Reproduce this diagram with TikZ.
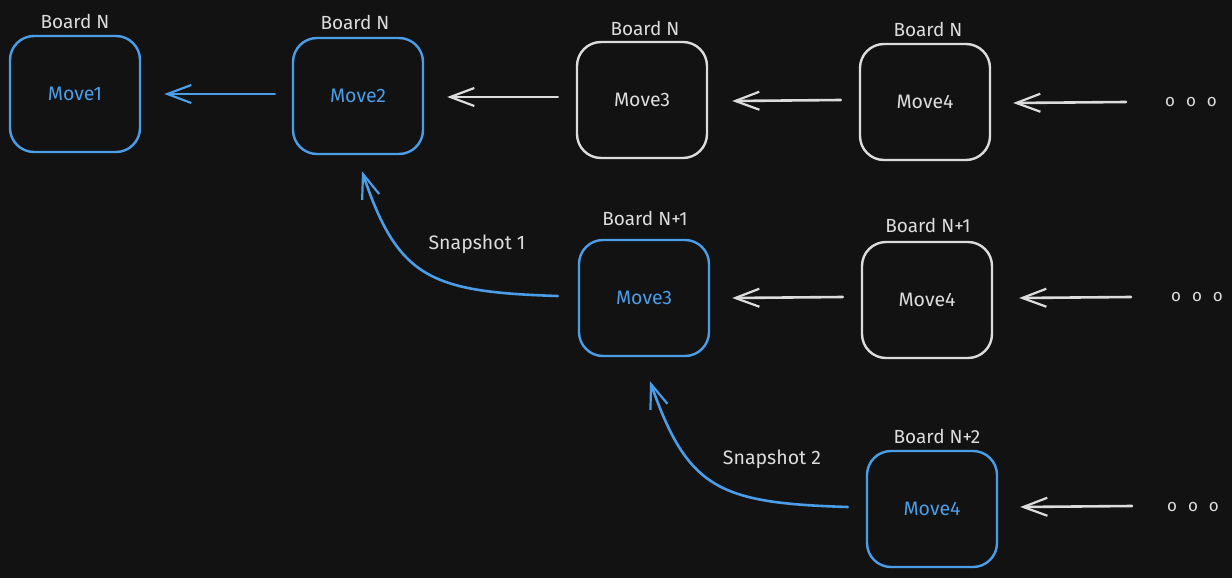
\documentclass[tikz,border=0pt]{standalone}
\usepackage{fontspec}
\setmainfont{Fira Sans}
\usetikzlibrary{arrows.meta}
\definecolor{bg}{HTML}{121212}
\definecolor{eblue}{HTML}{4A9DE6}
\definecolor{egray}{HTML}{DCDCDC}
\tikzset{
  movebox/.style={draw, line width=2.4pt, rounded corners=24pt, minimum width=130pt, minimum height=116pt, inner sep=0pt, font=\fontsize{19.5}{22}\selectfont},
  bluebox/.style={movebox, draw=eblue, text=eblue},
  graybox/.style={movebox, draw=egray, text=egray},
  boardlabel/.style={text=egray, font=\fontsize{19}{21}\selectfont, inner sep=0pt},
  snaplabel/.style={text=egray, font=\fontsize{19.5}{22}\selectfont, inner sep=0pt},
  dots/.style={text=egray, font=\fontsize{17}{18}\selectfont, inner sep=0pt},
  conn/.style={line width=2.6pt, line cap=round, -{Straight Barb[length=24pt,width=18pt,line width=2.2pt]}},
  blueconn/.style={conn, draw=eblue},
  grayconn/.style={conn, draw=egray},
}
\newcommand{\threedots}{o\hspace{11pt}o\hspace{11pt}o}
\begin{document}
\begin{tikzpicture}[x=1pt,y=-1pt]
\fill[bg] (0,0) rectangle (1232,578);
\useasboundingbox (0,0) rectangle (1232,578);
% top row
\node[bluebox] (m1) at (75,94) {Move1};
\node[bluebox] (m2) at (358,96) {Move2};
\node[graybox] (m3) at (642,100) {Move3};
\node[graybox] (m4) at (925,102) {Move4};
\node[dots] (d1) at (1191,102) {\threedots};
\node[boardlabel] (b1) at (75,21) {Board N};
\node[boardlabel] (b2) at (355,22) {Board N};
\node[boardlabel] (b3) at (645,28) {Board N};
\node[boardlabel] (b4) at (928,29) {Board N};
% middle row
\node[bluebox] (n3) at (644,298) {Move3};
\node[graybox] (n4) at (927,300) {Move4};
\node[dots] (d2) at (1197,297) {\threedots};
\node[boardlabel] (c3) at (645,218) {Board N+1};
\node[boardlabel] (c4) at (928,225) {Board N+1};
% bottom row
\node[bluebox] (p4) at (932,509) {Move4};
\node[dots] (d3) at (1193,507) {\threedots};
\node[boardlabel] (e4) at (937,436) {Board N+2};
% snapshot labels
\node[snaplabel] (s1) at (477,244) {Snapshot 1};
\node[snaplabel] (s2) at (772,459) {Snapshot 2};
% connectors
\draw[blueconn] ([xshift=-17pt,yshift=2pt]m2.west) -- ([xshift=23pt]m1.east);
\draw[grayconn] ([xshift=-18pt,yshift=3pt]m3.west) -- ([xshift=23pt,yshift=-1pt]m2.east);
\draw[grayconn] ([xshift=-18pt,yshift=2pt]m4.west) -- ([xshift=24pt,yshift=-1pt]m3.east);
\draw[grayconn] ([xshift=-65pt]d1.center) -- ([xshift=22pt,yshift=-1pt]m4.east);
\draw[grayconn] ([xshift=-18pt,yshift=3pt]n4.west) -- ([xshift=22pt]n3.east);
\draw[grayconn] ([xshift=-66pt]d2.center) -- ([xshift=26pt,yshift=2pt]n4.east);
\draw[grayconn] ([xshift=-61pt,yshift=1pt]d3.center) -- ([xshift=22pt,yshift=2pt]p4.east);
\draw[blueconn] ([xshift=-20pt,yshift=2pt]n3.west) .. controls (430,292) and (398,278) .. ([xshift=4pt,yshift=-16pt]m2.south);
\draw[blueconn] ([xshift=-18pt,yshift=2pt]p4.west) .. controls (720,503) and (688,490) .. ([xshift=6pt,yshift=-24pt]n3.south);
\end{tikzpicture}
\end{document}
